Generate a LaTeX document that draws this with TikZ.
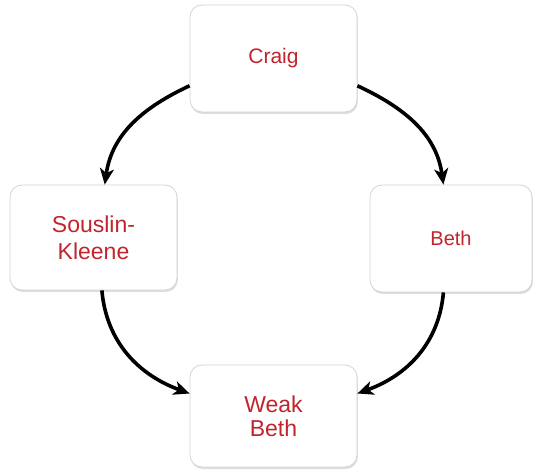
\documentclass[tikz,border=0pt]{standalone}
\usepackage{fontspec}
\setmainfont{Liberation Sans}
\usetikzlibrary{arrows.meta,shadows}
\definecolor{txtred}{RGB}{192,36,44}
\definecolor{boxline}{RGB}{212,212,212}
\tikzset{
  box/.style={draw=boxline, line width=0.8pt, fill=white, rounded corners=12pt,
    align=center, text=txtred, inner sep=0pt,
    drop shadow={shadow xshift=0.8pt, shadow yshift=-2pt, opacity=0.22, fill=black!60}},
  conn/.style={line width=3.6pt, -{Stealth[length=16pt,width=14pt,inset=4.5pt]}}
}
\begin{document}
\begin{tikzpicture}
\useasboundingbox (0,0) rectangle (535pt,471pt);
\node[box, minimum width=167pt, minimum height=107pt, font=\fontsize{21}{25}\selectfont] (craig) at (273.5pt,412.5pt) {Craig};
\node[box, minimum width=167pt, minimum height=105pt, font=\fontsize{23}{27}\selectfont] (sk) at (93.5pt,233.5pt) {Souslin-\\Kleene};
\node[box, minimum width=162pt, minimum height=107pt, font=\fontsize{20}{24}\selectfont] (beth) at (451pt,232.5pt) {Beth};
\node[box, minimum width=167pt, minimum height=102pt, font=\fontsize{23}{24}\selectfont] (wb) at (273.5pt,55pt) {Weak\\Beth};
\draw[conn] (craig.198) to[out=205, in=82] (sk.78);
\draw[conn] (craig.-18) to[out=-25, in=98] (beth.98);
\draw[conn] (sk.-81) to[out=-85, in=160] (wb.165);
\draw[conn] (beth.-98) to[out=-95, in=20] (wb.15);
\end{tikzpicture}
\end{document}
